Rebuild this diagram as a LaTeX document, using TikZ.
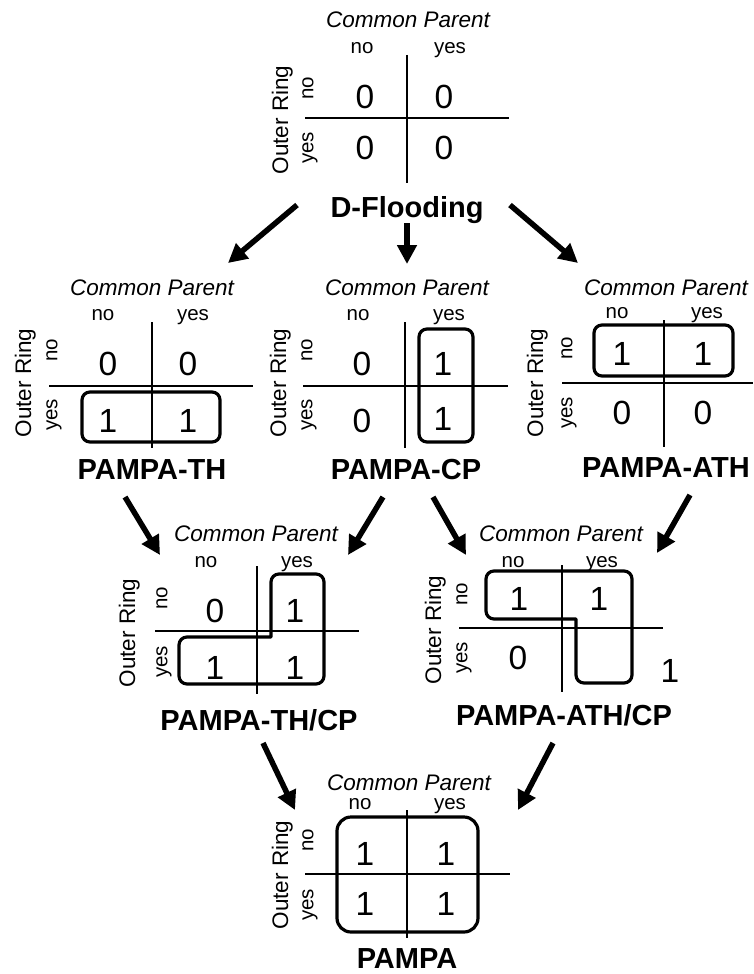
\documentclass[tikz,border=0pt]{standalone}
\usepackage{fontspec}
\setmainfont{Liberation Sans}
\usetikzlibrary{arrows.meta}
\begin{document}
\begin{tikzpicture}[x=1pt,y=-1pt,
  cp/.style={font=\fontsize{22.5}{23}\selectfont\itshape, text height=16pt, text depth=0pt, inner sep=0pt},
  hdr/.style={font=\fontsize{20.5}{21}\selectfont, text height=10.6pt, text depth=0pt, inner sep=0pt},
  rowlbl/.style={hdr, rotate=90},
  outer/.style={font=\fontsize{22.5}{23}\selectfont, text height=16pt, text depth=0pt, inner sep=0pt, rotate=90},
  digit/.style={font=\fontsize{33.5}{34}\selectfont, text height=24pt, text depth=0pt, inner sep=0pt},
  title/.style={font=\fontsize{29}{29}\selectfont\bfseries, text height=20.8pt, text depth=0pt, inner sep=0pt},
  gridline/.style={line width=1.4pt},
  grp/.style={line width=3.2pt, line join=round},
  grpbox/.style={grp, rounded corners=8pt},
  arr/.style={line width=5.5pt, -{Triangle[length=19pt,width=19pt]}},
]
\useasboundingbox (0,0) rectangle (753,974);

% ---------- D-Flooding ----------
\node[cp] (a-cp) at (408,20) {Common Parent};
\node[hdr] (a-cno) at (362,48) {no};
\node[hdr] (a-cyes) at (450,48) {yes};
\node[outer] (a-or) at (280,120) {Outer Ring};
\node[rowlbl] (a-rno) at (308,88) {no};
\node[rowlbl] (a-ryes) at (308,148) {yes};
\draw[gridline] (407,55) -- (407,183);
\draw[gridline] (305,118) -- (509,118);
\node[digit] (a-11) at (365,96) {0};
\node[digit] (a-12) at (444,96) {0};
\node[digit] (a-21) at (365,147) {0};
\node[digit] (a-22) at (444,147) {0};
\node[title] (a-t) at (407,207) {D-Flooding};

% ---------- PAMPA-TH ----------
\node[cp] (b-cp) at (152,287) {Common Parent};
\node[hdr] (b-cno) at (103,315) {no};
\node[hdr] (b-cyes) at (193,315) {yes};
\node[outer] (b-or) at (23,383) {Outer Ring};
\node[rowlbl] (b-rno) at (52,350) {no};
\node[rowlbl] (b-ryes) at (52,415) {yes};
\draw[gridline] (152,322) -- (152,448);
\draw[gridline] (49,386) -- (253,386);
\node[digit] (b-11) at (108,363) {0};
\node[digit] (b-12) at (188,363) {0};
\node[digit] (b-21) at (108,420) {1};
\node[digit] (b-22) at (188,420) {1};
\draw[grpbox] (82,392) rectangle (220,442);
\node[title] (b-t) at (152,469) {PAMPA-TH};

% ---------- PAMPA-CP ----------
\node[cp] (c-cp) at (407,287) {Common Parent};
\node[hdr] (c-cno) at (358,315) {no};
\node[hdr] (c-cyes) at (449,315) {yes};
\node[outer] (c-or) at (278,383) {Outer Ring};
\node[rowlbl] (c-rno) at (307,350) {no};
\node[rowlbl] (c-ryes) at (307,415) {yes};
\draw[gridline] (405,322) -- (405,448);
\draw[gridline] (303,386) -- (508,386);
\node[digit] (c-11) at (362,363) {0};
\node[digit] (c-12) at (443,363) {1};
\node[digit] (c-21) at (362,420) {0};
\node[digit] (c-22) at (443,418) {1};
\draw[grpbox] (419,329) rectangle (473,442);
\node[title] (c-t) at (406,469) {PAMPA-CP};

% ---------- PAMPA-ATH ----------
\node[cp] (d-cp) at (666,287) {Common Parent};
\node[hdr] (d-cno) at (617,313) {no};
\node[hdr] (d-cyes) at (707,313) {yes};
\node[outer] (d-or) at (535,383) {Outer Ring};
\node[rowlbl] (d-rno) at (567,348) {no};
\node[rowlbl] (d-ryes) at (567,413) {yes};
\draw[gridline] (664,320) -- (664,447);
\draw[gridline] (562,383) -- (753,383);
\node[digit] (d-11) at (622,353) {1};
\node[digit] (d-12) at (703,353) {1};
\node[digit] (d-21) at (622,412) {0};
\node[digit] (d-22) at (703,412) {0};
\draw[grpbox] (594,325) rectangle (733,376);
\node[title] (d-t) at (666,467) {PAMPA-ATH};

% ---------- PAMPA-TH/CP ----------
\node[cp] (e-cp) at (256,533) {Common Parent};
\node[hdr] (e-cno) at (206,562) {no};
\node[hdr] (e-cyes) at (297,562) {yes};
\node[outer] (e-or) at (127,633) {Outer Ring};
\node[rowlbl] (e-rno) at (162,598) {no};
\node[rowlbl] (e-ryes) at (162,662) {yes};
\draw[gridline] (257,566) -- (257,694);
\draw[gridline] (155,631) -- (359,631);
\node[digit] (e-11) at (215,610) {0};
\node[digit] (e-12) at (295,610) {1};
\node[digit] (e-21) at (215,667) {1};
\node[digit] (e-22) at (295,667) {1};
\draw[grp] (297,574) -- (316,574) arc[start angle=90, end angle=0, radius=8pt]
  -- (324,676) arc[start angle=0, end angle=-90, radius=8pt]
  -- (187,684) arc[start angle=-90, end angle=-180, radius=8pt]
  -- (179,645) arc[start angle=180, end angle=90, radius=8pt]
  -- (271,637) -- (271,582) arc[start angle=180, end angle=90, radius=8pt]
  -- cycle;
\node[title] (e-t) at (259,720) {PAMPA-TH/CP};

% ---------- PAMPA-ATH/CP ----------
\node[cp] (f-cp) at (561,533) {Common Parent};
\node[hdr] (f-cno) at (513,562) {no};
\node[hdr] (f-cyes) at (602,562) {yes};
\node[outer] (f-or) at (433,630) {Outer Ring};
\node[rowlbl] (f-rno) at (462,594) {no};
\node[rowlbl] (f-ryes) at (462,658) {yes};
\draw[gridline] (562,565) -- (562,692);
\draw[gridline] (459,628) -- (663,628);
\node[digit] (f-11) at (519,598) {1};
\node[digit] (f-12) at (599,598) {1};
\node[digit] (f-21) at (518,657) {0};
\node[digit] (f-22) at (670,670) {1};
\draw[grp] (560,571) -- (624,571) arc[start angle=90, end angle=0, radius=8pt]
  -- (632,675) arc[start angle=0, end angle=-90, radius=8pt]
  -- (584,683) arc[start angle=-90, end angle=-180, radius=8pt]
  -- (576,619) -- (494,619) arc[start angle=270, end angle=180, radius=8pt]
  -- (486,579) arc[start angle=180, end angle=90, radius=8pt]
  -- cycle;
\node[title] (f-t) at (564,715) {PAMPA-ATH/CP};

% ---------- PAMPA ----------
\node[cp] (g-cp) at (409,782) {Common Parent};
\node[hdr] (g-cno) at (360,804) {no};
\node[hdr] (g-cyes) at (450,804) {yes};
\node[outer] (g-or) at (280,875) {Outer Ring};
\node[rowlbl] (g-rno) at (308,840) {no};
\node[rowlbl] (g-ryes) at (308,905) {yes};
\draw[gridline] (407,810) -- (407,938);
\draw[gridline] (305,874) -- (510,874);
\node[digit] (g-11) at (365,853) {1};
\node[digit] (g-12) at (446,853) {1};
\node[digit] (g-21) at (365,903) {1};
\node[digit] (g-22) at (446,903) {1};
\draw[grpbox, rounded corners=14pt] (337,817) rectangle (478,932);
\node[title] (g-t) at (407,958) {PAMPA};

% ---------- arrows ----------
\coordinate (p1s) at (297,205); \coordinate (p1e) at (228,263);
\coordinate (p2s) at (407,223); \coordinate (p2e) at (407,264);
\coordinate (p3s) at (510,205); \coordinate (p3e) at (578,263);
\coordinate (p4s) at (125,497); \coordinate (p4e) at (160,555);
\coordinate (p5s) at (383,497); \coordinate (p5e) at (348,555);
\coordinate (p6s) at (433,497); \coordinate (p6e) at (466,555);
\coordinate (p7s) at (690,495); \coordinate (p7e) at (657,553);
\coordinate (p8s) at (263,743); \coordinate (p8e) at (295,810);
\coordinate (p9s) at (553,743); \coordinate (p9e) at (518,810);
\foreach \i in {1,...,9} { \draw[arr] (p\i s) -- (p\i e); }
\end{tikzpicture}
\end{document}
